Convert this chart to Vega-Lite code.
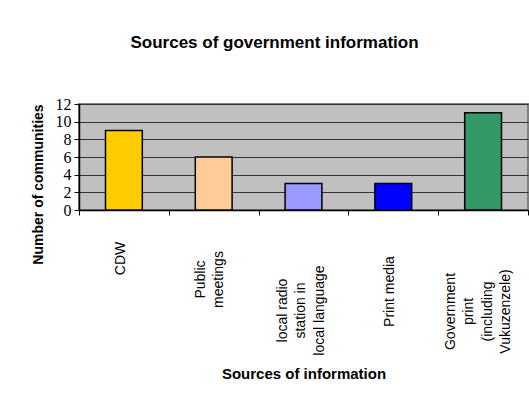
{
  "$schema": "https://vega.github.io/schema/vega-lite/v6.json",
  "width": 449,
  "height": 106,
  "autosize": {"type": "none"},
  "padding": {"left": 79, "top": 104, "right": 1, "bottom": 198},
  "background": "white",
  "title": {
    "text": "Sources of government information",
    "font": "Liberation Sans",
    "fontSize": 17,
    "fontWeight": "bold",
    "color": "black",
    "anchor": "middle",
    "baseline": "alphabetic",
    "offset": 31,
    "dx": -29
  },
  "data": {
    "values": [
      {"source": "CDW", "communities": 9},
      {"source": "Public meetings", "communities": 6},
      {"source": "local radio station in local language", "communities": 3},
      {"source": "Print media", "communities": 3},
      {"source": "Government print (including Vukuzenzele)", "communities": 11}
    ]
  },
  "mark": {"type": "bar", "width": {"band": 0.41}, "stroke": "black", "strokeWidth": 1.5},
  "encoding": {
    "x": {
      "field": "source",
      "type": "nominal",
      "sort": null,
      "scale": {"paddingInner": 0, "paddingOuter": 0},
      "axis": {
        "title": "Sources of information",
        "titleFont": "Liberation Sans",
        "titleFontSize": 15,
        "titleFontWeight": "bold",
        "titleColor": "black",
        "titleBaseline": "alphabetic",
        "titleY": 168,
        "labelAngle": 270,
        "labelAlign": "center",
        "labelBaseline": "middle",
        "labelFont": "Liberation Sans",
        "labelFontSize": 14,
        "labelColor": "black",
        "labelLineHeight": 18.5,
        "labelLimit": 0,
        "labelOverlap": false,
        "labelPadding": {
          "condition": [
            {"test": "datum.value == 'CDW'", "value": 43},
            {"test": "datum.value == 'Public meetings'", "value": 64},
            {"test": "datum.value == 'local radio station in local language'", "value": 95},
            {"test": "datum.value == 'Print media'", "value": 76}
          ],
          "value": 96
        },
        "labelOffset": {
          "condition": [
            {"test": "datum.value == 'CDW'", "value": -3.5},
            {"test": "datum.value == 'Public meetings'", "value": -13.5},
            {"test": "datum.value == 'local radio station in local language'", "value": -21.5},
            {"test": "datum.value == 'Print media'", "value": -4}
          ],
          "value": -33
        },
        "labelExpr": "datum.label == 'Public meetings' ? ['Public', 'meetings'] : datum.label == 'local radio station in local language' ? ['local radio', 'station in', 'local language'] : datum.label == 'Government print (including Vukuzenzele)' ? ['Government', 'print', '(including', 'Vukuzenzele)'] : datum.label",
        "tickBand": "extent",
        "tickSize": 5,
        "tickColor": "black",
        "domainColor": "black",
        "domainWidth": 1.5,
        "grid": false
      }
    },
    "y": {
      "field": "communities",
      "type": "quantitative",
      "scale": {"domain": [0, 12], "nice": false},
      "axis": {
        "title": "Number of communities",
        "titleFont": "Liberation Sans",
        "titleFontSize": 14,
        "titleFontWeight": "bold",
        "titleColor": "black",
        "titleY": 80,
        "titlePadding": 10,
        "values": [0, 2, 4, 6, 8, 10, 12],
        "labelFont": "Liberation Sans Narrow",
        "labelFontSize": 16,
        "labelColor": "black",
        "labelPadding": 3,
        "tickSize": 5,
        "tickColor": "black",
        "domainColor": "black",
        "domainWidth": 1.5,
        "grid": true,
        "gridColor": "#333333",
        "gridWidth": 1.2
      }
    },
    "fill": {
      "field": "source",
      "type": "nominal",
      "sort": null,
      "scale": {
        "domain": ["CDW", "Public meetings", "local radio station in local language", "Print media", "Government print (including Vukuzenzele)"],
        "range": ["#FFCC00", "#FFCC99", "#9999FF", "#0000FF", "#339966"]
      },
      "legend": null
    }
  },
  "config": {
    "view": {"fill": "#C0C0C0", "stroke": "#808080", "strokeWidth": 2}
  }
}
